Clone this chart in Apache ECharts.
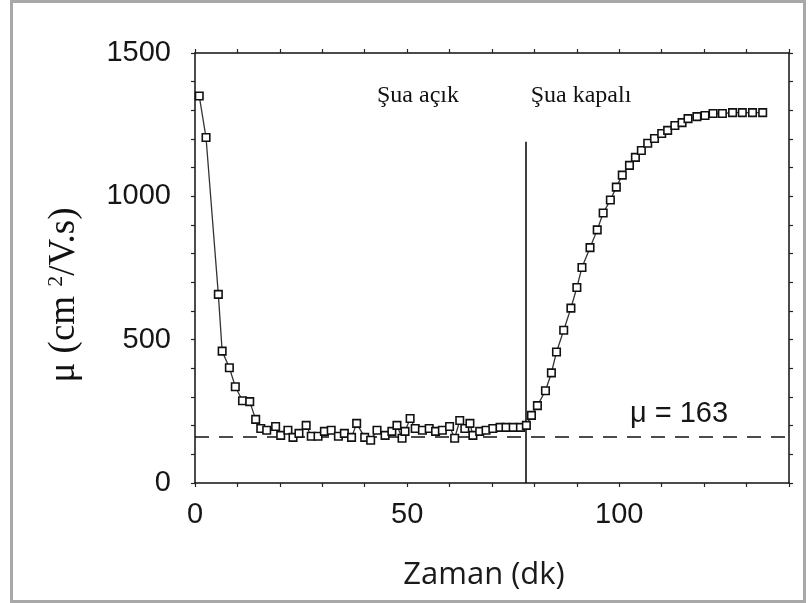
<!DOCTYPE html>
<html>
<head>
<meta charset="utf-8">
<script src="https://cdn.jsdelivr.net/npm/echarts@6/dist/echarts.min.js"></script>
<style>html,body{margin:0;padding:0;background:#fff}#c{width:808px;height:603px}</style>
</head>
<body>
<div id="c"></div>
<script>
// Time (minutes)
const timeMin = [1.0, 2.6, 5.5, 6.4, 8.1, 9.5, 11.2, 12.9, 14.3, 15.5, 16.9, 19.0, 20.2, 21.9, 23.1, 24.5, 26.2, 27.4, 29.0, 30.5, 32.1, 33.8, 35.2, 36.9, 38.1, 40.0, 41.4, 42.9, 44.8, 46.4, 47.6, 48.8, 49.5, 50.7, 51.9, 53.6, 55.2, 56.7, 58.3, 60.0, 61.2, 62.4, 63.6, 64.8, 65.5, 67.1, 68.6, 70.2, 71.9, 73.3, 75.0, 76.7, 78.1, 79.3, 80.7, 82.6, 84.0, 85.2, 86.9, 88.6, 90.0, 91.2, 93.1, 94.8, 96.2, 97.9, 99.3, 100.7, 102.4, 103.8, 105.2, 106.7, 108.3, 110.0, 111.4, 113.1, 114.8, 116.2, 118.3, 120.2, 122.1, 124.3, 126.7, 129.0, 131.4, 133.8];
// Mobility mu (cm2/V.s)
const mobility = [1350, 1205, 658, 460, 402, 336, 287, 284, 222, 190, 184, 197, 166, 184, 159, 173, 201, 163, 163, 180, 184, 163, 173, 159, 208, 159, 149, 184, 166, 180, 201, 156, 180, 225, 190, 184, 190, 180, 184, 197, 156, 218, 190, 208, 166, 180, 184, 190, 194, 194, 194, 194, 201, 236, 270, 322, 384, 457, 533, 610, 682, 752, 821, 883, 942, 987, 1032, 1074, 1108, 1136, 1160, 1185, 1202, 1219, 1230, 1247, 1257, 1271, 1278, 1282, 1289, 1289, 1292, 1292, 1292, 1292];
const muSat = 163;          // dashed reference level
const beamOffTime = 78;     // vertical line position
const beamOffLineTop = 1190;
const xTicks = [0, 50, 100];
const yTicks = [0, 500, 1000, 1500];
const labelBeamOn = 'Şua açık';
const labelBeamOff = 'Şua kapalı';
const labelMu = 'μ = 163';
const xTitle = 'Zaman (dk)';

const points = timeMin.map((t, i) => [t, mobility[i]]);
const chart = echarts.init(document.getElementById('c'), null, {renderer: 'canvas'});
const tickFont = {fontFamily: 'Liberation Sans', fontSize: 29, color: '#161616'};

chart.setOption({
  animation: false,
  backgroundColor: '#fff',
  grid: {left: 195, right: 19, top: 53, bottom: 120, containLabel: false},
  xAxis: [{
    type: 'value', min: 0, max: 140, interval: 10, position: 'bottom',
    axisLine: {show: true, lineStyle: {color: '#111', width: 1.5}},
    axisTick: {show: true, inside: false, length: 4, lineStyle: {color: '#222', width: 1.2}},
    axisLabel: Object.assign({margin: 17, formatter: v => xTicks.includes(v) ? String(v) : ''}, tickFont),
    splitLine: {show: false}
  }, {
    type: 'value', min: 0, max: 140, interval: 10, position: 'top',
    axisLine: {show: true, onZero: false, lineStyle: {color: '#111', width: 1.5}},
    axisTick: {show: true, inside: false, length: 4, lineStyle: {color: '#222', width: 1.2}},
    axisLabel: {show: false}, splitLine: {show: false}
  }],
  yAxis: [{
    type: 'value', min: 0, max: 1500, interval: 100, position: 'left',
    axisLine: {show: true, lineStyle: {color: '#111', width: 1.5}},
    axisTick: {show: true, inside: false, length: 4, lineStyle: {color: '#222', width: 1.2}},
    axisLabel: Object.assign({margin: 24, formatter: v => yTicks.includes(v) ? String(v) : ''}, tickFont),
    splitLine: {show: false}
  }, {
    type: 'value', min: 0, max: 1500, interval: 100, position: 'right',
    axisLine: {show: true, onZero: false, lineStyle: {color: '#111', width: 1.5}},
    axisTick: {show: true, inside: false, length: 4, lineStyle: {color: '#222', width: 1.2}},
    axisLabel: {show: false}, splitLine: {show: false}
  }],
  series: [{
    type: 'line',
    data: points,
    xAxisIndex: 0, yAxisIndex: 0,
    symbol: 'rect', symbolSize: 7.5,
    showAllSymbol: true,
    lineStyle: {color: '#333', width: 1.3},
    itemStyle: {color: '#fff', borderColor: '#111', borderWidth: 1.6},
    z: 5,
    markLine: {
      silent: true, symbol: 'none', z: 3,
      label: {show: false},
      data: [
        {yAxis: muSat, lineStyle: {color: '#111', width: 1.6, type: [14, 10]}},
        [{coord: [beamOffTime, 0], lineStyle: {color: '#111', width: 1.6, type: 'solid'}},
         {coord: [beamOffTime, beamOffLineTop]}]
      ]
    }
  }],
  graphic: [
    {type: 'rect', shape: {x: 11.5, y: 1.5, width: 793, height: 600}, style: {fill: 'none', stroke: '#a8a8a8', lineWidth: 3}, z: 100},
    {type: 'text', x: 418, y: 96, style: {text: labelBeamOn, font: '24px "Liberation Serif"', fill: '#111', align: 'center', verticalAlign: 'middle'}},
    {type: 'text', x: 581, y: 96, style: {text: labelBeamOff, font: '24px "Liberation Serif"', fill: '#111', align: 'center', verticalAlign: 'middle'}},
    {type: 'text', x: 679, y: 414, style: {text: labelMu, font: '29px "Liberation Sans"', fill: '#161616', align: 'center', verticalAlign: 'middle'}},
    {type: 'text', x: 484, y: 575, style: {text: xTitle, font: '31px "Open Sans"', fill: '#1a1a1a', align: 'center', verticalAlign: 'middle'}},
    {type: 'text', x: 64, y: 295, rotation: Math.PI / 2,
      style: {
        text: '{a|μ (cm }{b|2}{a|/V.s)}', align: 'center', verticalAlign: 'middle',
        rich: {
          a: {fontFamily: 'Liberation Serif', fontSize: 37, fill: '#111', color: '#111'},
          b: {fontFamily: 'Liberation Serif', fontSize: 22, fill: '#111', color: '#111', verticalAlign: 'top', padding: [0, 0, 16, 0]}
        }
      }}
  ]
});
</script>
</body>
</html>
